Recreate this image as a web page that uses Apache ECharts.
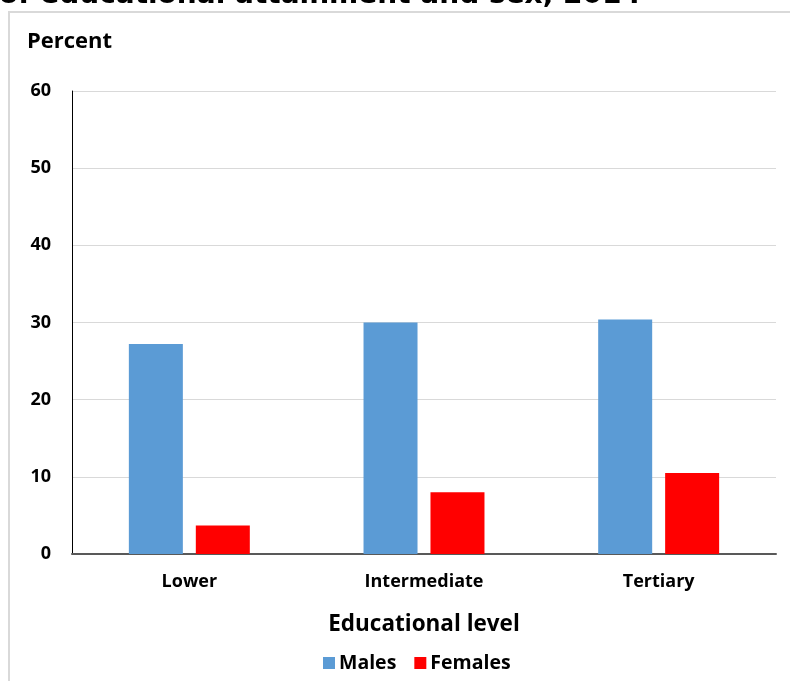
<!DOCTYPE html>
<html>
<head>
<meta charset="utf-8">
<script src="https://cdn.jsdelivr.net/npm/echarts@6/dist/echarts.min.js"></script>
<style>html,body{margin:0;padding:0;background:#fff}#c{width:790px;height:681px}</style>
</head>
<body>
<div id="c"></div>
<script>
const categories = ['Lower', 'Intermediate', 'Tertiary'];
const males = [27.2, 30.0, 30.4];
const females = [3.7, 8.0, 10.5];
const yTicks = [0, 10, 20, 30, 40, 50, 60];
const seriesNames = ['Males', 'Females'];

const chart = echarts.init(document.getElementById('c'));
const lblFont = '"Open Sans", "Noto Sans", sans-serif';
chart.setOption({
  animation: false,
  backgroundColor: '#fff',
  graphic: [
    { type: 'rect', shape: { x: 9, y: 12, width: 800, height: 700 },
      style: { fill: 'none', stroke: '#d9d9d9', lineWidth: 2 }, z: 0 },
    { type: 'text', x: -1, y: -18,
      style: { text: 'of educational attainment and sex, 2014', font: 'bold 28px "DejaVu Sans", sans-serif',
        fill: '#000' } },
    { type: 'text', x: 27, y: 31,
      style: { text: 'Percent', font: 'bold 22px ' + lblFont, fill: '#000' } }
  ],
  grid: { left: 72, right: 14, top: 91, bottom: 127 },
  legend: {
    data: seriesNames, bottom: 3, left: 318, itemWidth: 12, itemHeight: 12, itemGap: 18,
    icon: 'rect',
    textStyle: { fontFamily: lblFont, fontWeight: 'bold', fontSize: 19.5, color: '#000', padding: [0, 0, 0, -1] }
  },
  xAxis: {
    type: 'category', data: categories,
    name: 'Educational level', nameLocation: 'middle', nameGap: 59,
    nameTextStyle: { fontFamily: lblFont, fontSize: 22.5, fontWeight: 'bold', color: '#000' },
    axisLine: { lineStyle: { color: '#595959', width: 2 } },
    axisTick: { show: false },
    axisLabel: { fontFamily: lblFont, fontWeight: 'bold', fontSize: 18, color: '#000', margin: 19 }
  },
  yAxis: {
    type: 'value', min: 0, max: 60, interval: 10,
    axisLine: { show: true, lineStyle: { color: '#000', width: 1 } },
    axisTick: { show: false },
    axisLabel: { fontFamily: lblFont, fontWeight: 'bold', fontSize: 18, color: '#000', margin: 21,
      formatter: v => yTicks.includes(v) ? String(v) : '' },
    splitLine: { lineStyle: { color: '#d9d9d9', width: 1 } }
  },
  series: [
    { name: seriesNames[0], type: 'bar', data: males, barWidth: 54, barGap: '24%',
      itemStyle: { color: '#5b9bd5' } },
    { name: seriesNames[1], type: 'bar', data: females, barWidth: 54,
      itemStyle: { color: '#ff0000' } }
  ]
});
</script>
</body>
</html>
